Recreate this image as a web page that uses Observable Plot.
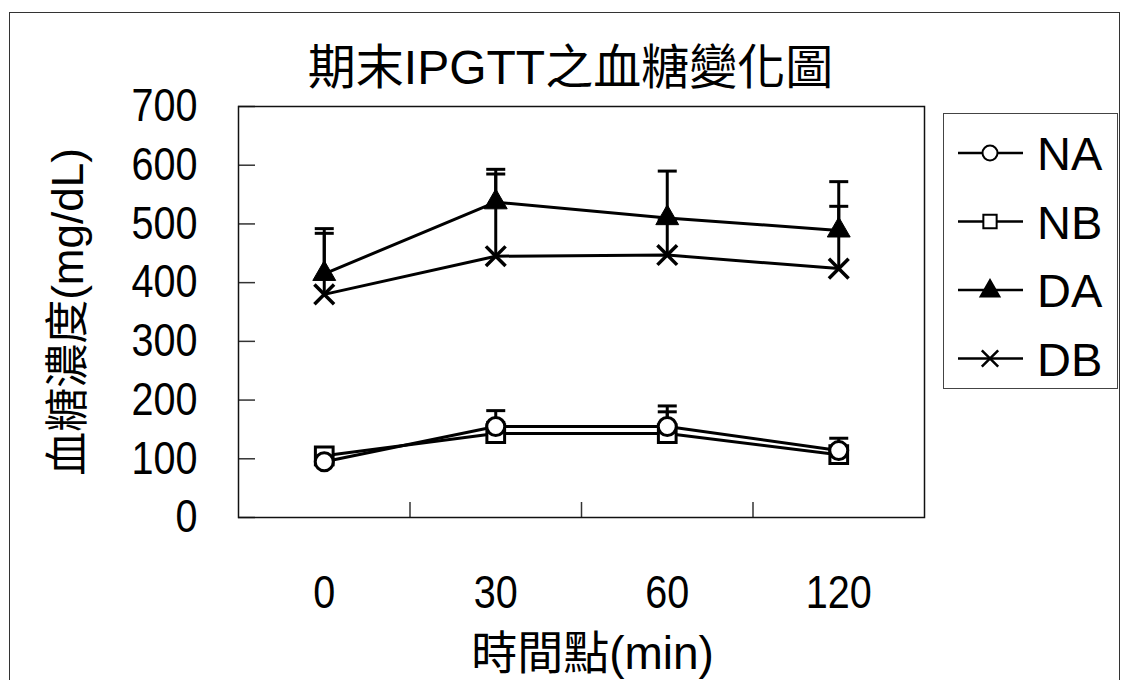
<!DOCTYPE html>
<html>
<head>
<meta charset="utf-8">
<script src="https://cdn.jsdelivr.net/npm/d3@7"></script>
<script src="https://cdn.jsdelivr.net/npm/@observablehq/plot@0.6"></script>
<style>
  html, body { margin: 0; padding: 0; background: #fff; }
  #wrap { position: relative; width: 1123px; height: 680px; overflow: hidden; background: #fff; }
  #outer { position: absolute; left: 9px; top: 12px; width: 1111px; height: 700px; border: 1.5px solid #333; box-sizing: border-box; }
  #chart { position: absolute; left: 0; top: 0; }
  #legend { position: absolute; left: 943px; top: 113px; width: 175px; height: 276px; border: 1.5px solid #444; box-sizing: border-box; background: #fff; }
</style>
</head>
<body>
<div id="wrap">
  <div id="outer"></div>
  <div id="chart"></div>
  <div id="legend"></div>
</div>
<script>
// ---- data ----
const times = ["0", "30", "60", "120"];
const seriesNames = ["NA", "NB", "DA", "DB"];
const NA = [95, 155, 155, 114];
const NA_sd = [12, 27, 35, 21];
const NB = [105, 143, 143, 107];
const NB_sd = [14, 19, 37, 10];
const DA = [415, 537, 510, 489];
const DA_sd = [77, 56, 80, 83];
const DB = [380, 445, 447, 424];
const DB_sd = [104, 140, 60, 106];
const yTicks = [0, 100, 200, 300, 400, 500, 600, 700];
const titleText = "期末IPGTT之血糖變化圖";
const xTitle = "時間點(min)";
const yTitle = "血糖濃度(mg/dL)";

const valuesBy = {NA, NB, DA, DB};
const sdBy = {NA: NA_sd, NB: NB_sd, DA: DA_sd, DB: DB_sd};
const rows = seriesNames.flatMap(s => times.map((t, i) => ({
  series: s, i, t, v: valuesBy[s][i], top: valuesBy[s][i] + sdBy[s][i]
})));
const of = s => rows.filter(d => d.series === s);

const sans = "'Liberation Sans', Arial, sans-serif";
const mixed = "'Liberation Sans', Arial, 'Noto Sans CJK TC', sans-serif";

const capSymbol = {
  draw(ctx, size) {
    const h = Math.sqrt(size / Math.PI);
    ctx.moveTo(-h, 0);
    ctx.lineTo(h, 0);
  }
};

const W = 1123, H = 680;
const mL = 238, mR = 199, mT = 106, mB = 163;
const frameW = W - mL - mR, frameH = H - mT - mB;

const chart = Plot.plot({
  width: W,
  height: H,
  marginLeft: mL,
  marginRight: mR,
  marginTop: mT,
  marginBottom: mB,
  style: {background: "transparent", fontFamily: mixed, color: "black", overflow: "visible"},
  x: {type: "linear", domain: [-0.5, 3.5]},
  y: {domain: [0, 700]},
  marks: [
    Plot.tickY(yTicks, {y: d => d, insetRight: frameW - 17, stroke: "#333", strokeWidth: 1.5}),
    Plot.tickX([0.5, 1.5, 2.5], {x: d => d, insetTop: frameH - 15, stroke: "#333", strokeWidth: 1.5}),
    Plot.frame({stroke: "#111", strokeWidth: 1.5}),
    Plot.axisY({ticks: yTicks, tickSize: 0, tickPadding: 41, fontSize: 46, fontFamily: sans, label: null, tickFormat: d => String(d)}),
    Plot.axisX({ticks: [0, 1, 2, 3], tickSize: 0, tickPadding: 58, fontSize: 46, fontFamily: sans, label: null, tickFormat: i => times[i]}),
    // error bars (upper SD)
    Plot.ruleX(rows, {x: "i", y1: "v", y2: "top", stroke: "black", strokeWidth: 3}),
    Plot.dot(rows, {x: "i", y: "top", symbol: capSymbol, r: 9.5, fill: "none", stroke: "black", strokeWidth: 3}),
    // lines
    Plot.line(rows, {x: "i", y: "v", z: "series", stroke: "black", strokeWidth: 3}),
    // markers
    Plot.dot(of("DB"), {x: "i", y: "v", symbol: "times", r: 9, fill: "none", stroke: "black", strokeWidth: 3.5}),
    Plot.dot(of("DA"), {x: "i", y: "v", symbol: "triangle", r: 8.5, fill: "black", stroke: "black", strokeWidth: 1}),
    Plot.dot(of("NB"), {x: "i", y: "v", symbol: "square", r: 10, fill: "white", stroke: "black", strokeWidth: 3}),
    Plot.dot(of("NA"), {x: "i", y: "v", symbol: "circle", r: 9, fill: "white", stroke: "black", strokeWidth: 3}),
    // titles
    Plot.text([titleText], {text: d => d, frameAnchor: "top", textAnchor: "middle", dx: -11, dy: -38, lineAnchor: "middle", fontSize: 48, fill: "black", fontFamily: mixed}),
    Plot.text([xTitle], {text: d => d, frameAnchor: "bottom", textAnchor: "middle", dx: 11, dy: 137, lineAnchor: "middle", fontSize: 46, fill: "black", fontFamily: mixed}),
    Plot.text([yTitle], {text: d => d, frameAnchor: "left", textAnchor: "middle", dx: -170, rotate: -90, lineAnchor: "middle", fontSize: 44, fill: "black", fontFamily: mixed})
  ]
});
document.getElementById("chart").appendChild(chart);

// condense tick-label glyphs horizontally (narrow digits as in the reference)
d3.select(chart).selectAll("g[aria-label='y-axis tick label'] text, g[aria-label='x-axis tick label'] text")
  .each(function () {
    const t = this.getAttribute("transform");
    if (t) {
      this.setAttribute("transform", t + " scale(0.86,1)");
    } else {
      const x = +(this.getAttribute("x") || 0), y = +(this.getAttribute("y") || 0);
      this.removeAttribute("x"); this.removeAttribute("y");
      this.setAttribute("transform", `translate(${x},${y}) scale(0.86,1)`);
    }
  });

// ---- legend ----
const legendSymbols = {NA: d3.symbolCircle, NB: d3.symbolSquare, DA: d3.symbolTriangle, DB: d3.symbolTimes};
const legendFill = {NA: "white", NB: "white", DA: "black", DB: "none"};
const lsvg = d3.select("#legend").append("svg")
  .attr("width", 172).attr("height", 273)
  .style("display", "block");
seriesNames.forEach((s, k) => {
  const cy = 39 + k * 68.5;
  const g = lsvg.append("g").attr("transform", `translate(0,${cy})`);
  g.append("line").attr("x1", 14).attr("x2", 79).attr("y1", 0).attr("y2", 0)
    .attr("stroke", "black").attr("stroke-width", 2.5);
  const rr = s === "DA" ? 7 : 7.5;
  g.append("path")
    .attr("transform", `translate(46,${s === "DA" ? 1 : 0})`)
    .attr("d", d3.symbol(legendSymbols[s], Math.PI * rr * rr)())
    .attr("fill", legendFill[s]).attr("stroke", "black")
    .attr("stroke-width", s === "DB" ? 2.5 : 2);
  g.append("text").attr("x", 93).attr("y", 17)
    .attr("font-family", mixed).attr("font-size", 47).attr("fill", "black")
    .text(s);
});
</script>
</body>
</html>
